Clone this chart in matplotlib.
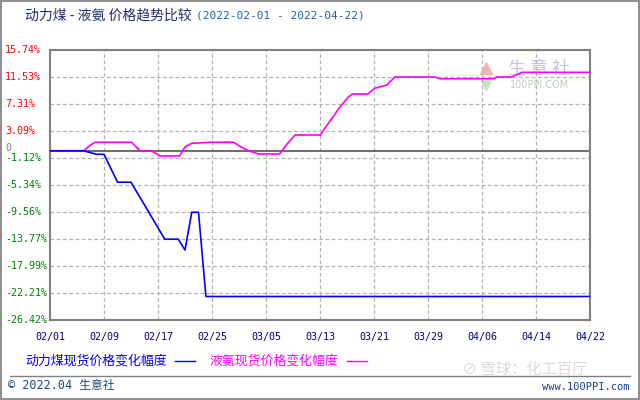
import matplotlib
matplotlib.use('Agg')
import matplotlib.pyplot as plt
import matplotlib.transforms as mtransforms

plt.rcParams['font.family'] = ['Noto Sans CJK SC', 'DejaVu Sans']

# 数据（距 2022-02-01 的天数, 涨跌幅 %）
coal_days = [0, 5, 6.9, 8, 10, 12, 17, 19, 20, 21, 22, 23.1, 80]
coal_vals = [0, 0, -0.55, -0.55, -4.9, -4.9, -13.8, -13.8, -15.5, -9.6, -9.6, -22.75, -22.75]

nh3_days = [0, 5, 6, 6.7, 12.1, 13.3, 15, 16.3, 19.2, 20, 21, 23.7, 27.2, 28.3, 29.4,
            30.9, 34, 35, 36.3, 40.1, 40.5, 43, 44.2, 44.8, 47.1, 48.1, 49.9, 51.1,
            57, 57.8, 65.7, 66.2, 68.4, 69.9, 80]
nh3_vals = [0, 0, 0.9, 1.33, 1.33, 0, 0, -0.8, -0.8, 0.6, 1.17, 1.33, 1.33, 0.6, 0,
            -0.5, -0.5, 0.9, 2.47, 2.47, 3.2, 6.9, 8.4, 8.87, 8.87, 9.76, 10.27, 11.53,
            11.53, 11.25, 11.25, 11.53, 11.53, 12.25, 12.25]

x_ticks = [0, 8, 16, 24, 32, 40, 48, 56, 64, 72, 80]
x_labels = ['02/01', '02/09', '02/17', '02/25', '03/05', '03/13', '03/21', '03/29', '04/06', '04/14', '04/22']
y_ticks = [15.74, 11.53, 7.31, 3.09, -1.12, -5.34, -9.56, -13.77, -17.99, -22.21, -26.42]

W, H = 640, 400
fig = plt.figure(figsize=(6.4, 4.0), dpi=100)
fig.patch.set_facecolor('white')

def fx(px):
    return px / W

def fy(py):
    return 1 - py / H

MONO = ['DejaVu Sans Mono', 'Noto Sans CJK SC']

# 外框
fig.add_artist(plt.Rectangle((0.001, 0.002), 0.997, 0.996, transform=fig.transFigure,
                             fill=False, edgecolor='#909090', linewidth=1.5))

ax = fig.add_axes([fx(50), fy(320), fx(540), 270 / H])
ax.set_xlim(0, 80)
ax.set_ylim(-26.42, 15.74)

for y in y_ticks[1:-1]:
    ax.axhline(y, color='#b4b4b4', linestyle=(0, (3, 2)), linewidth=0.9, zorder=1)
for x in x_ticks[1:-1]:
    ax.axvline(x, color='#b4b4b4', linestyle=(0, (3, 2)), linewidth=0.9, zorder=1)
ax.axhline(0, color='#707070', linewidth=1.5, zorder=2)

ax.plot(coal_days, coal_vals, color='#0000ff', linewidth=1.2, zorder=4)
ax.plot(nh3_days, nh3_vals, color='#ff00ff', linewidth=1.2, zorder=3)

ax.set_xticks([])
ax.set_yticks([])
for sp in ax.spines.values():
    sp.set_color('#808080')
    sp.set_linewidth(1.5)

# 水印
ax.text(72.5, 12.7, '生 意 社', fontsize=13, color='#c0c8dc', ha='center', va='center', zorder=0)
ax.text(72.5, 10.2, '100PPI.COM', fontsize=7, color='#c8c8c8', ha='center', va='center',
        family='DejaVu Sans', zorder=0)
ax.plot([64.6], [12.9], marker='^', markersize=9, color='#f4b4b4', zorder=0)
ax.plot([64.6], [10.2], marker='v', markersize=7, color='#bfe8bf', zorder=0)

# Y 轴标签
trans = mtransforms.blended_transform_factory(fig.transFigure, ax.transData)
for v in y_ticks:
    c = '#ff0000' if v > 0 else '#008000'
    ax.text(fx(5), v, f'{v:.2f}%', transform=trans, fontsize=7.2, color=c,
            ha='left', va='center', family='DejaVu Sans Mono')
ax.text(fx(5), 0.5, '0', transform=trans, fontsize=7.2, color='#808080',
        ha='left', va='center', family='DejaVu Sans Mono')

# X 轴标签
transx = mtransforms.blended_transform_factory(ax.transData, fig.transFigure)
for x, lab in zip(x_ticks, x_labels):
    ax.text(x, fy(337), lab, transform=transx, fontsize=7.2, color='#000080',
            ha='center', va='center', family='DejaVu Sans Mono')

# 标题
fig.text(fx(25), fy(16), '动力煤 - 液氨 价格趋势比较', fontsize=10, color='#1f2f6f',
         ha='left', va='center')
fig.text(fx(196), fy(16), '(2022-02-01 - 2022-04-22)', fontsize=8, color='#2060a0',
         ha='left', va='center', family='DejaVu Sans Mono')

# 图例
fig.text(fx(25), fy(361), '动力煤现货价格变化幅度', fontsize=9.3, color='#0000ff', ha='left', va='center')
fig.add_artist(plt.Line2D([fx(175), fx(195)], [fy(361), fy(361)], transform=fig.transFigure,
                          color='#0000ff', linewidth=1))
fig.text(fx(209), fy(361), '液氨现货价格变化幅度', fontsize=9.3, color='#ff00ff', ha='left', va='center')
fig.add_artist(plt.Line2D([fx(347), fx(367)], [fy(361), fy(361)], transform=fig.transFigure,
                          color='#ff00ff', linewidth=1))

# 底部
fig.add_artist(plt.Line2D([fx(10), fx(630)], [fy(376), fy(376)], transform=fig.transFigure,
                          color='#808080', linewidth=1))
fig.text(fx(8), fy(385), '© 2022.04 生意社', fontsize=8.5, color='#1a4a80', ha='left', va='center',
         family=MONO)
fig.text(fx(630), fy(387), 'www.100PPI.com', fontsize=7.5, color='#1a3a90', ha='right', va='center',
         family='DejaVu Sans Mono')
fig.text(fx(462), fy(369), '⊘ 雪球：化工百厅', fontsize=11, color='#d0d0d0', ha='left', va='center',
         alpha=0.8)

fig.savefig('out.png', dpi=100)
